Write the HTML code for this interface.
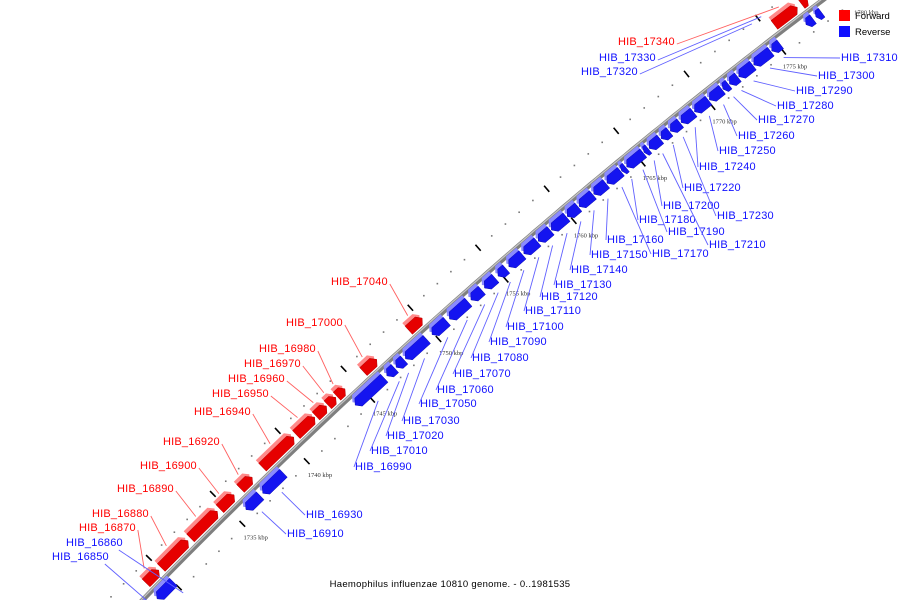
<!DOCTYPE html>
<html><head><meta charset="utf-8"><style>
html,body{margin:0;padding:0;background:#fff;width:900px;height:600px;overflow:hidden;}
svg{display:block;font-family:"Liberation Sans","DejaVu Sans",sans-serif;overflow:hidden;}
</style></head><body>
<svg id="chart" width="900" height="600" viewBox="0 0 900 600" xmlns="http://www.w3.org/2000/svg">
<g id="bg"></g>
<g id="axis"></g>
<g id="genes"></g>
<g id="labels"></g>
<g>
<rect x="839" y="10" width="11" height="11" fill="#ff0000"/>
<text x="855" y="19" font-size="9.5" fill="#000">Forward</text>
<rect x="839" y="26" width="11" height="11" fill="#1010ff"/>
<text x="855" y="35" font-size="9.5" fill="#000">Reverse</text>
</g>
<text x="450" y="587" text-anchor="middle" font-size="9.5" letter-spacing="0.3" fill="#000">Haemophilus influenzae 10810 genome. - 0..1981535</text>
</svg>
<script>
// ---- data (kbp) ----
const fwdNames = ["HIB_16870","HIB_16880","HIB_16890","HIB_16900","HIB_16920","HIB_16940","HIB_16950","HIB_16960","HIB_16970","HIB_16980","HIB_17000","HIB_17040","HIB_17340","HIB_17350"];
const fwdStart = [1728.9,1730.1,1732.4,1734.7,1736.3,1738.0,1740.6,1742.1,1743.0,1743.7,1745.7,1749.1,1775.5,1777.4];
const fwdEnd   = [1729.9,1732.2,1734.5,1735.8,1737.2,1740.4,1742.0,1742.9,1743.6,1744.3,1746.7,1750.1,1777.1,1777.8];
const revNames = ["HIB_16850","HIB_16860","HIB_16910","HIB_16930","HIB_16990","HIB_17010","HIB_17020","HIB_17030","HIB_17050","HIB_17060","HIB_17070","HIB_17080","HIB_17090","HIB_17100",
 "HIB_17110","HIB_17120","HIB_17130","HIB_17140","HIB_17150","HIB_17160","HIB_17170","HIB_17180","HIB_17190","HIB_17200","HIB_17210","HIB_17220","HIB_17230","HIB_17240","HIB_17250","HIB_17260","HIB_17270","HIB_17280","HIB_17290","HIB_17300","HIB_17310","HIB_17320","HIB_17330"];
const revStart = [1727.2,1728.7,1735.7,1737.0,1744.1,1746.5,1747.2,1747.9,1749.9,1751.2,1752.8,1753.8,1754.8,1755.6,
 1756.7,1757.76,1758.72,1759.88,1760.74,1761.8,1762.76,1763.82,1764.18,1765.44,1765.8,1766.66,1767.32,1768.08,1769.04,1770.1,1771.06,1771.52,1772.18,1773.24,1774.5,1776.9,1777.6];
const revEnd   = [1728.2,1730.0,1736.8,1738.6,1746.3,1747.1,1747.8,1749.5,1751.0,1752.6,1753.6,1754.6,1755.4,1756.6,
 1757.7,1758.66,1759.82,1760.68,1761.74,1762.7,1763.76,1764.12,1765.38,1765.74,1766.6,1767.26,1768.02,1768.98,1770.04,1771.0,1771.46,1772.12,1773.18,1774.44,1775.1,1777.4,1778.0];
const tickKbp = [1725,1730,1735,1740,1745,1750,1755,1760,1765,1770,1775,1780];
// ---- label layout (screen px, text start x, center y) ----
const fwdLabelPos = {"HIB_16870":[79,527],"HIB_16880":[92,513],"HIB_16890":[117,488],"HIB_16900":[140,465],"HIB_16920":[163,441],"HIB_16940":[194,411],"HIB_16950":[212,393],"HIB_16960":[228,378],"HIB_16970":[244,363],"HIB_16980":[259,348],"HIB_17000":[286,322],"HIB_17040":[331,281],"HIB_17340":[618,41]};
const revLabelPos = {"HIB_16850":[52,556],"HIB_16860":[66,542],"HIB_16910":[287,533],"HIB_16930":[306,514],"HIB_16990":[355,466],"HIB_17010":[371,450],"HIB_17020":[387,435],"HIB_17030":[403,420],"HIB_17050":[420,403],"HIB_17060":[437,389],"HIB_17070":[454,373],"HIB_17080":[472,357],"HIB_17090":[490,341],"HIB_17100":[507,326],"HIB_17110":[525,310],"HIB_17120":[541,296],"HIB_17130":[555,284],"HIB_17140":[571,269],"HIB_17150":[591,254],"HIB_17160":[607,239],"HIB_17170":[652,253],"HIB_17180":[639,219],"HIB_17190":[668,231],"HIB_17200":[663,205],"HIB_17210":[709,244],"HIB_17220":[684,187],"HIB_17230":[717,215],"HIB_17240":[699,166],"HIB_17250":[719,150],"HIB_17260":[738,135],"HIB_17270":[758,119],"HIB_17280":[777,105],"HIB_17290":[796,90],"HIB_17300":[818,75],"HIB_17310":[841,57],"HIB_17320":[581,71],"HIB_17330":[599,57]};

// ---- circular axis geometry ----
const CX=4404, CY=4744, R=5944, A0=-134.6, DEG_PER_KBP=0.1737;
function pt(t, off){
  const a=(A0+(t-1735)*DEG_PER_KBP)*Math.PI/180, r=R-off;
  return [CX+r*Math.cos(a), CY+r*Math.sin(a)];
}
const NS="http://www.w3.org/2000/svg";
function mk(tag, attrs, parent){ const e=document.createElementNS(NS,tag); for(const k in attrs) e.setAttribute(k,attrs[k]); parent.appendChild(e); return e; }
function polyStr(list){ return list.map(p=>{const q=pt(p[0],p[1]);return q[0].toFixed(1)+","+q[1].toFixed(1);}).join(" "); }
function inside(p){ return p[0]>-5&&p[0]<905&&p[1]>-5&&p[1]<598; }

const bg=document.getElementById('bg');
for(let t=1724;t<=1782;t++){
  if(t%5===0) continue;
  [-25,20].forEach(off=>{
    const p=pt(t,off);
    if(!inside(p)) return;
    const d=mk('rect',{x:p[0]-0.8,y:p[1]-0.8,width:1.6,height:1.6,fill:'#777'},bg);
    
    
  });
}
tickKbp.forEach(t=>{
  [[-25,-21,-29],[17,13,21]].forEach(o=>{
    const a=pt(t,o[1]), b=pt(t,o[2]);
    if(!inside(a)||!inside(b)) return;
    const l=mk('line',{x1:a[0],y1:a[1],x2:b[0],y2:b[1],stroke:'#000','stroke-width':1.6},bg);
    
    
  });
  const p=pt(t,36);
  if(p[1]>590) return;
  const tx=mk('text',{x:p[0],y:p[1]+2,'text-anchor':'middle','font-size':'6.5','font-family':'"Liberation Serif",serif',fill:'#333'},bg);
  tx.textContent=t+" kbp";
  
  
});

const ax=document.getElementById('axis');
let dA="", dB="";
for(let t=1722;t<=1784;t+=0.5){ const p=pt(t,0), q=pt(t,-1.2); dA+=(dA?"L":"M")+p[0].toFixed(1)+","+p[1].toFixed(1); dB+=(dB?"L":"M")+q[0].toFixed(1)+","+q[1].toFixed(1); }
const ap=mk('path',{d:dA,fill:'none',stroke:'#7f7f7f','stroke-width':5},ax);


const ah=mk('path',{d:dB,fill:'none',stroke:'#c4c4c4','stroke-width':1.3},ax);



const gg=document.getElementById('genes');
const lg=document.getElementById('labels');
function drawGene(name,s,e,forward){
  const len=e-s, tip=Math.min(0.25,len*0.4);
  let top, main;
  if(forward){
    const sh=(a,b)=>[[s,a],[e-tip,a],[e,(a+b)/2],[e-tip,b],[s,b]];
    top=sh(-19,-8); main=sh(-15,-4);
  } else {
    const sh=(a,b)=>[[s+tip,a],[e,a],[e,b],[s+tip,b],[s,(a+b)/2]];
    top=sh(0,11); main=sh(4,15);
  }
  const g=mk('g',{},gg);
  
  
  mk('polygon',{points:polyStr(top),fill:forward?'#ff8a8a':'#8a8aff'},g);
  mk('polygon',{points:polyStr(main),fill:forward?'#e60000':'#1414f0',stroke:forward?'#b00000':'#0a0ab0','stroke-width':0.5},g);
  const pos=(forward?fwdLabelPos:revLabelPos)[name];
  if(!pos) return;
  const col=forward?'#ff0000':'#1010ff';
  const tx=mk('text',{x:pos[0],y:pos[1]+4,'font-size':'11',fill:col,'letter-spacing':'0.2'},lg);
  tx.textContent=name;
  
  
  const w=tx.getComputedTextLength?tx.getComputedTextLength():52;
  const mid=(s+e)/2;
  let x1,y1,end;
  if(forward){ x1=pos[0]+w+2; y1=pos[1]+3; end=pt(mid,-21); }
  else if(name==="HIB_17320"||name==="HIB_17330"){ x1=pos[0]+w+2; y1=pos[1]+3; end=pt(mid-2.6,-24); }
  else if(name==="HIB_16850"||name==="HIB_16860"){ x1=pos[0]+w-4; y1=pos[1]+8; end=pt(mid+0.6,24); }
  else { x1=pos[0]-1; y1=pos[1]+1; end=pt(mid,22); }
  const ln=mk('line',{x1:x1,y1:y1,x2:end[0],y2:end[1],stroke:forward?'#ff6060':'#6060ff','stroke-width':0.9},lg);
  
  
}
fwdNames.forEach((n,i)=>drawGene(n,fwdStart[i],fwdEnd[i],true));
revNames.forEach((n,i)=>drawGene(n,revStart[i],revEnd[i],false));
</script>
</body></html>
